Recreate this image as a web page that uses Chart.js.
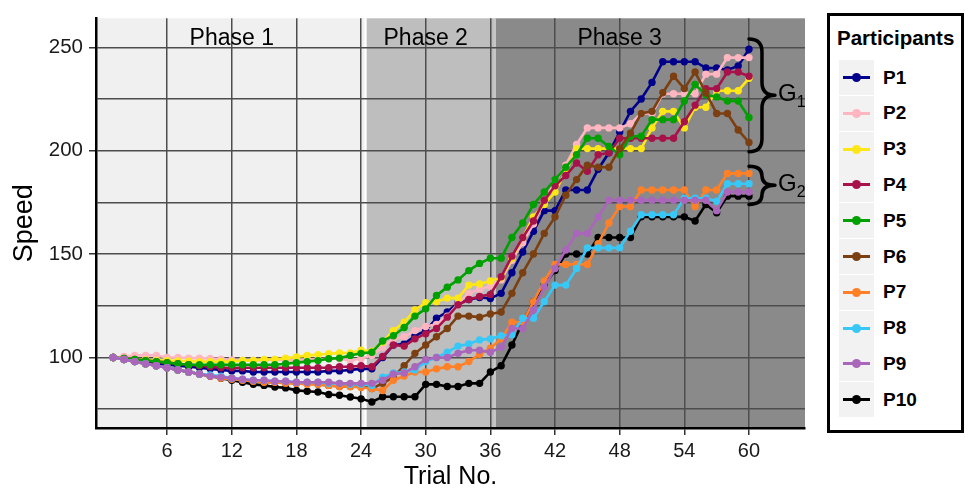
<!DOCTYPE html>
<html>
<head>
<meta charset="utf-8">
<script src="https://cdn.jsdelivr.net/npm/chart.js@4.4.1/dist/chart.umd.min.js"></script>
<style>
body{margin:0;background:#fff;font-family:'Liberation Sans',Arial,sans-serif}
#wrap{position:relative;width:969px;height:490px}
#leg{position:absolute;left:827px;top:13px;width:137px;height:420px;border:3px solid #000;box-sizing:border-box;background:#fff}
#leg .lt{position:absolute;left:7px;top:10px;font-weight:bold;font-size:20.5px;color:#000}
#leg .it{position:absolute;left:9px;height:35px;display:flex;align-items:center}
#leg .key{width:35px;height:35px;background:#f2f2f2;position:relative}
#leg .ln{position:absolute;left:4px;right:4px;top:16px;height:3px}
#leg .dt{position:absolute;left:13px;top:13px;width:9px;height:9px;border-radius:50%}
#leg .lab{margin-left:9px;font-weight:bold;font-size:19px;color:#000}
</style>
</head>
<body>
<div id="wrap">
<canvas id="c" width="969" height="490"></canvas>
<div id="leg"><div class="lt">Participants</div></div>
</div>
<script>
// trial numbers (x categories)
const TRIALS=[1,2,3,4,5,6,7,8,9,10,11,12,13,14,15,16,17,18,19,20,21,22,23,24,25,26,27,28,29,30,
  31,32,33,34,35,36,37,38,39,40,41,42,43,44,45,46,47,48,49,50,51,52,53,54,55,56,57,58,59,60];

// speed per participant
const P1=[100,99.5,99,98,97,96.5,96,95.5,95,94.5,94,93.5,93.5,93,93,93,93,93,93,93,93.5,93.5,94,94.5,
  94.5,100,106,106.5,110.5,113,119,122,126.5,128,129,128.5,131,
  141,151,161,171,171,181,181,181,191,199,209,219,
  225,233,243,243,243,243,240,240,239,241,249];
const P2=[100,100.5,101,101,101,100,100,99.7,99.7,99.5,99.2,98.8,98.6,98.6,98.6,99,98.6,98.6,99,99,99.4,99.4,98.6,99.5,
  101,105,109,110,113,115,116,120,126,131,133,134.5,137.5,
  147,155.5,164.5,175.5,185,193,203,211,211,211,211,213,
  218,218,227.5,227.5,227.5,227.5,237,237,245,245,245];
const P3=[100,99.5,99,98.8,98.6,98.5,98.3,98.2,98,98,98,98,98.6,98.6,99,99,99.7,100.2,101,101.3,101.8,102.2,102.2,103.5,
  103,107.5,113,117,123,126.5,127,128.7,128.7,135,135.5,137,138.5,
  148,158,168,174,180,190,201,201,201,201,201,201,
  201,211,219,219,211,221,221,229,229,229,235];
const P4=[100,99.5,99,98.5,98,97.5,97,96.5,96,95.5,95,95,95,95,95,95,95,95,95,95,95,95.5,95.5,96,
  95.5,100.5,106,105.5,109,111.5,114,119.5,125.5,128,129.5,130.5,139,
  149,158,166,176,183,188,194,190,198,199,206,206,
  206,206,206,206,214,222,230,230,238,238,236];
const P5=[100,99.5,99,98.5,98,97.5,97,96.5,96.5,96.5,96.5,96.5,96.5,96.5,96.5,96.5,97,97.5,98,98.5,99.4,99.7,101,102,
  102.5,108,110.5,114.5,120,123.5,130,134,137.5,142,145.5,148,148,
  158,165,174,180,186,192,198,206,206,202,198,207,
  207,215,215,215,224,232,227,226,224,224,216];
const P6=[100,99,98,97,96,95,94,93,92,91,90.5,90,89,88.5,88,88,88,87.5,87.5,87,86.5,86,86,86.5,
  85,87.5,90.5,96,102,106,110,114,120,120,119.5,121,122,
  131,141,150,160,168,178.5,186,193,192,192,201,208.5,
  218,219,228,236,230,238,228,218,218,210,204];
const P7=[100,99,98,97,96,95,94,93,92,91,90,89.5,89,88.5,88,88,87.5,87.5,87,87,86.5,86,86,85.5,
  85,84,89,91,93,93,94.5,95.5,95.5,98,101.5,104.5,109,
  117,117,127,137,145,145,145,145,155,165,173,173,
  181,181,181,181,181,173,181,181,189,189,189];
const P8=[100,99,98,97,96,95,94,93,92,91.5,91,90,89.5,89,89,88.5,88.5,88,88,88,87.5,87.5,87,87,
  86.5,90.5,92.5,93,94,98,100,102.5,105.5,106.5,108.5,109,110.5,
  111,119,119,127,135,135,143,153,153,153,153,161,
  169,169,169,169,177,177,177,175.5,184,184,184];
const P9=[100,99,98,97,96,95,94,93,92,91,90.5,90,89.5,89,89,88.5,88.5,88,88,88,88,87.5,87.5,87.5,
  87.5,89,92,92.5,95.5,99,100,100,102,103.5,103.5,102.5,105,
  114,114,123,134,143,152,160,160,168,176,176,176,
  176,176,176,176,176,176,176,171,180,180,180];
const P10=[100,99,98,97,96,95,94,93,92,91,90,89,88,87,86.5,85.7,85.3,84.1,83.7,83.3,82.1,81.7,80.9,80,
  78.5,81,81,81,81,87,87,86,86,87.5,87.5,93,96,
  106,117,127,135,142,150,150,150,158,158,158,158,
  168,168,168,168,168,166,174,170,178,178,178];

const NAMES=['P1','P2','P3','P4','P5','P6','P7','P8','P9','P10'];
const COLORS=['#00008B','#FFB6C1','#FFE617','#A8124A','#00A000','#7B3F12','#FF8026','#38C8F8','#AA66BB','#000000'];
const SERIES=[P1,P2,P3,P4,P5,P6,P7,P8,P9,P10];
// ggplot draws levels alphabetically: P1,P10,P2..P9 -> P9 on top
const ORDER=[9,7,6,5,4,3,2,1,0,8];

const XTICKS=[6,12,18,24,30,36,42,48,54,60];
const YTICKS=[75,100,125,150,175,200,225,250];
const PHASES=[{from:-1,to:24.5,col:'#f0f0f0',label:'Phase 1',at:12},
  {from:24.5,to:36.5,col:'#bebebe',label:'Phase 2',at:30},
  {from:36.5,to:70,col:'#8a8a8a',label:'Phase 3',at:48}];
const GROUPS=[{name:'G',sub:'1',top:254,bot:199.5},{name:'G',sub:'2',top:192.5,bot:174}];

const FONT="'Liberation Sans', Arial, sans-serif";

const phasePlugin={
  id:'phases',
  beforeDraw(ch){
    const {ctx,chartArea:a,scales:{x}}=ch;
    ctx.save();
    PHASES.forEach(p=>{
      const l=Math.max(a.left,x.getPixelForValue(p.from)),r=Math.min(a.right,x.getPixelForValue(p.to));
      ctx.fillStyle=p.col;ctx.fillRect(l,a.top,r-l,a.bottom-a.top);
    });
    ctx.fillStyle='#fff';
    ctx.fillRect(x.getPixelForValue(24.5)-2,a.top,2,a.bottom-a.top);
    ctx.fillStyle='#c8c8c8';
    ctx.fillRect(x.getPixelForValue(36.5)-2,a.top,2,a.bottom-a.top);
    ctx.restore();
  },
  afterDraw(ch){
    const {ctx,scales:{x,y}}=ch;
    ctx.save();
    ctx.fillStyle='#000';ctx.font='23px '+FONT;ctx.textAlign='center';ctx.textBaseline='middle';
    PHASES.forEach(p=>ctx.fillText(p.label,x.getPixelForValue(p.at),y.getPixelForValue(254)));
    // braces
    ctx.strokeStyle='#000';ctx.lineWidth=3.5;ctx.lineCap='round';
    const x0=x.getPixelForValue(60),xm=x0+13,xt=x0+26;
    GROUPS.forEach(g=>{
      const y0=y.getPixelForValue(g.top),y1=y.getPixelForValue(g.bot),ym=(y0+y1)/2;
      const r=Math.min(13,(y1-y0)/4);
      ctx.beginPath();
      ctx.moveTo(x0,y0);ctx.quadraticCurveTo(xm,y0,xm,y0+r);ctx.lineTo(xm,ym-r);ctx.quadraticCurveTo(xm,ym,xt,ym);
      ctx.moveTo(xt,ym);ctx.quadraticCurveTo(xm,ym,xm,ym+r);ctx.lineTo(xm,y1-r);ctx.quadraticCurveTo(xm,y1,x0,y1);
      ctx.stroke();
      ctx.textAlign='left';ctx.textBaseline='middle';
      ctx.font='24px '+FONT;ctx.fillText(g.name,xt+3,ym-1);
      const w=ctx.measureText(g.name).width;
      ctx.font='16px '+FONT;ctx.fillText(g.sub,xt+3+w,ym+7);
    });
    ctx.restore();
  }
};

const datasets=SERIES.map((s,i)=>({
  label:NAMES[i],
  data:s.map((v,j)=>({x:TRIALS[j],y:v})),
  borderColor:COLORS[i],backgroundColor:COLORS[i],
  borderWidth:2.6,pointRadius:3.7,pointBorderWidth:0,pointHoverRadius:3.7,
  tension:0,order:ORDER[i]
}));

new Chart(document.getElementById('c'),{
  type:'line',
  data:{datasets},
  plugins:[phasePlugin],
  options:{
    responsive:false,animation:false,devicePixelRatio:1,
    layout:{padding:{left:0,top:16,right:164,bottom:0}},
    plugins:{legend:{display:false},tooltip:{enabled:false}},
    scales:{
      x:{type:'linear',min:-0.6,max:65.2,
        afterBuildTicks:s=>{s.ticks=XTICKS.map(v=>({value:v}))},
        afterFit:s=>{s.height=62},
        grid:{color:'#4d4d4d',lineWidth:1.5,tickLength:7,tickColor:'#333'},
        border:{display:true,color:'#000',width:2.5},
        ticks:{font:{size:20,family:FONT},color:'#1a1a1a',padding:4,maxRotation:0,autoSkip:false},
        title:{display:true,text:'Trial No.',font:{size:25,family:FONT,lineHeight:1},color:'#000',padding:{top:0,bottom:0}}},
      y:{min:65.9,max:264,
        afterBuildTicks:s=>{s.ticks=YTICKS.map(v=>({value:v}))},
        afterFit:s=>{s.width=96},
        grid:{color:'#4d4d4d',lineWidth:1.5,tickLength:7,tickColor:c=>c.tick&&c.tick.value%50===0?'#333':'rgba(0,0,0,0)'},
        border:{display:true,color:'#000',width:2.5},
        ticks:{font:{size:20.5,family:FONT},color:'#1a1a1a',padding:6,autoSkip:false,callback:v=>v%50===0?v:''},
        title:{display:true,text:'Speed',font:{size:27,family:FONT,lineHeight:1},color:'#000',padding:{top:11,bottom:0}}}
    }
  }
});

// legend
const leg=document.getElementById('leg');
NAMES.forEach((n,i)=>{
  const it=document.createElement('div');it.className='it';it.style.top=(44+i*35.8)+'px';
  it.innerHTML=`<div class="key"><div class="ln" style="background:${COLORS[i]}"></div><div class="dt" style="background:${COLORS[i]}"></div></div><span class="lab">${n}</span>`;
  leg.appendChild(it);
});
</script>
</body>
</html>
